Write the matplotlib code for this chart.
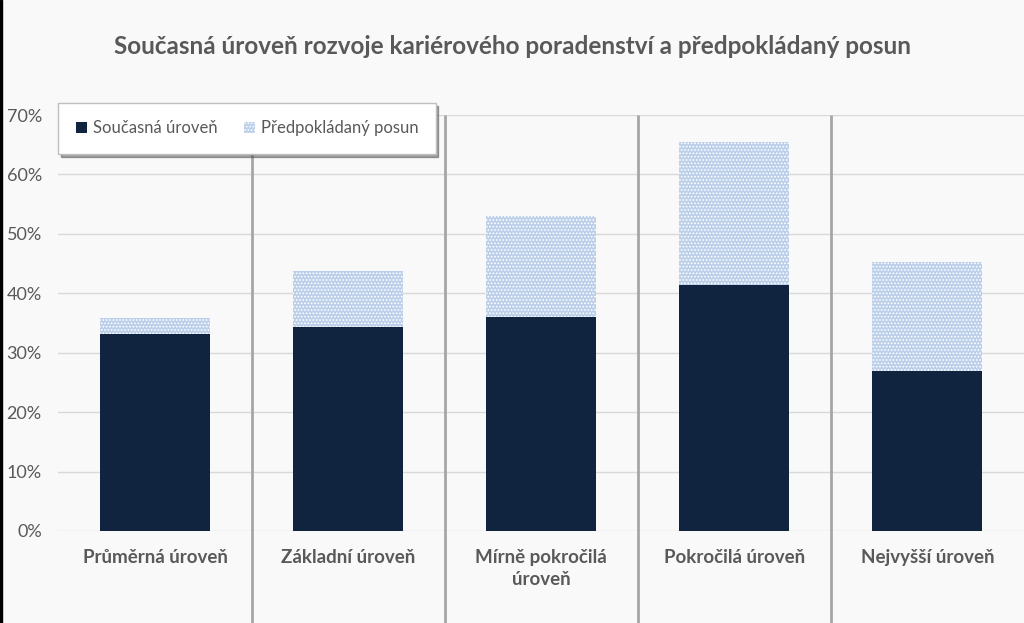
import matplotlib
matplotlib.use('Agg')
import matplotlib.pyplot as plt
from matplotlib.patches import Rectangle
import numpy as np

plt.rcParams['font.family'] = ['Lato', 'DejaVu Sans']
plt.rcParams['hatch.color'] = 'white'
plt.rcParams['hatch.linewidth'] = 0.8

categories = ['Průměrná úroveň', 'Základní úroveň', 'Mírně pokročilá\núroveň',
              'Pokročilá úroveň', 'Nejvyšší úroveň']
current = [33.2, 34.3, 36.0, 41.4, 26.9]
shift = [2.7, 9.5, 17.0, 24.1, 18.4]
yticks = [0, 10, 20, 30, 40, 50, 60, 70]

grey = '#595959'
dark = '#10243f'
light = '#bccfea'

fig = plt.figure(figsize=(10.24, 6.23), dpi=100)
fig.patch.set_facecolor('#f9f9f9')
ax = fig.add_axes([0.0571, 0.1477, 0.9429, 0.6677])
ax.set_facecolor('#f9f9f9')

x = np.arange(len(categories))
ax.bar(x, current, width=0.57, color=dark, label='Současná úroveň', zorder=3)
ax.bar(x, shift, bottom=current, width=0.57, color=light, hatch='.....',
       edgecolor='white', linewidth=0, label='Předpokládaný posun', zorder=3)

ax.set_xlim(-0.5, len(categories) - 0.5)
ax.set_ylim(0, 70)
ax.set_yticks(yticks)
ax.set_yticklabels([f'{v}%' for v in yticks], fontsize=13, color=grey)
ax.yaxis.grid(True, color='#d9d9d9', linewidth=1, zorder=0)
ax.tick_params(axis='y', length=0, pad=12)
ax.set_xticks(x)
ax.set_xticklabels(categories, fontsize=13.5, fontweight='bold', color=grey,
                   linespacing=1.35, va='top')
ax.tick_params(axis='x', length=0, pad=13)
for s in ax.spines.values():
    s.set_visible(False)

# category separators
ax.vlines(x[:-1] + 0.5, -0.23, 1, transform=ax.get_xaxis_transform(),
          color='#a6a6a6', linewidth=2, clip_on=False, zorder=2)

fig.text(0.5, 0.926, 'Současná úroveň rozvoje kariérového poradenství a předpokládaný posun',
         ha='center', va='center', fontsize=17.5, fontweight='bold', color=grey)

leg = ax.legend(loc='upper left', bbox_to_anchor=(0.0, 1.029), ncol=2, fontsize=12,
                frameon=True, fancybox=False, shadow=True, handlelength=0.65,
                handleheight=0.65, columnspacing=1.6, borderpad=1.05, handletextpad=0.35,
                borderaxespad=0)
leg.get_frame().set_edgecolor('#bfbfbf')
leg.get_frame().set_facecolor('white')
for t in leg.get_texts():
    t.set_color(grey)
leg.set_zorder(5)

fig.patches.append(Rectangle((0, 0), 0.002, 1, transform=fig.transFigure,
                             color='black', zorder=10))

fig.savefig('out.png', dpi=100, facecolor=fig.get_facecolor())
